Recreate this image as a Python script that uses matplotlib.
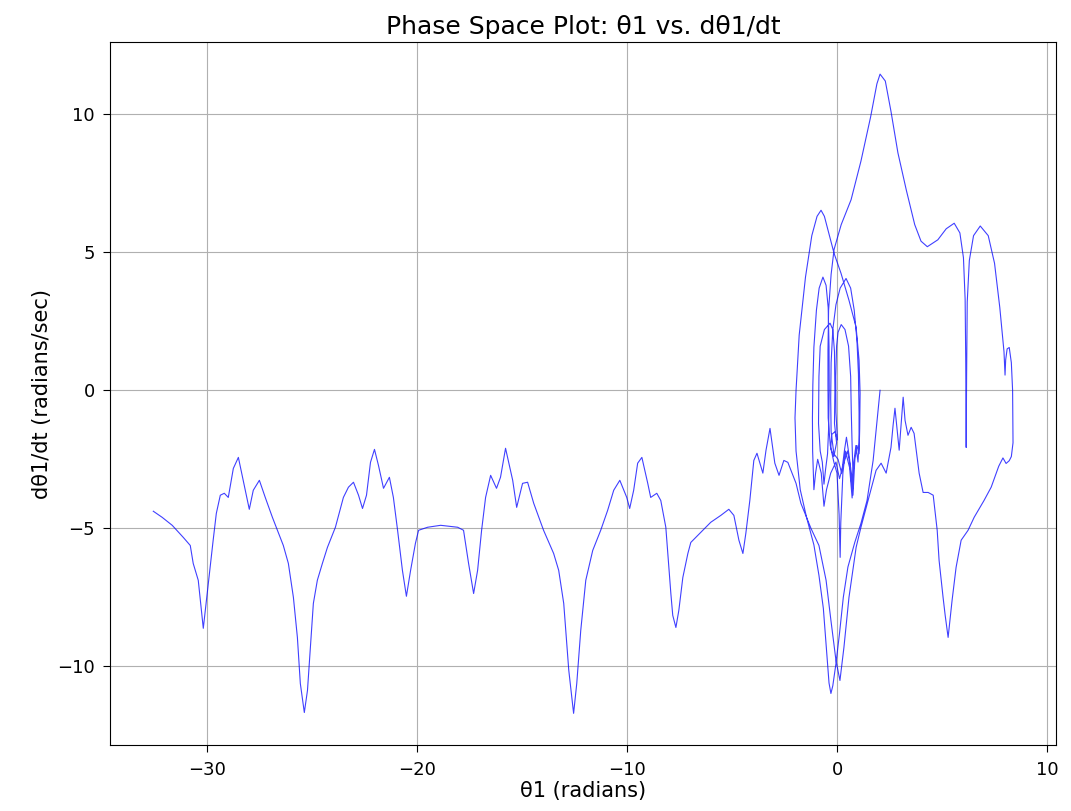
import numpy as np
import matplotlib
matplotlib.use('Agg')
import matplotlib.pyplot as plt

# trajectory of the upper pendulum arm, (theta1, dtheta1/dt) in rad, rad/s

# released from rest, first big swing through the bottom
first_swing = [
    (2.05, 0.0), (1.91, -1.09), (1.72, -2.54), (1.43, -3.99), (1.14, -4.82),
    (0.85, -5.5), (0.52, -6.4), (0.3, -7.5), (0.12, -8.8), (-0.05, -9.9),
    (-0.2, -10.7), (-0.29, -10.98), (-0.38, -10.6), (-0.5, -9.4), (-0.65, -7.9),
    (-0.86, -6.7), (-1.1, -5.6), (-1.45, -4.6), (-1.75, -3.6), (-1.95, -2.2),
    (-2.0, -1.0), (-1.95, 0.0), (-1.8, 2.0), (-1.5, 4.1), (-1.2, 5.6),
    (-0.95, 6.3), (-0.76, 6.52), (-0.6, 6.3), (-0.43, 5.8), (-0.14, 4.96),
    (0.19, 4.24), (0.57, 3.26), (0.91, 2.28), (1.05, 1.09), (1.1, -0.1),
    (1.08, -1.4), (1.05, -2.3),
]

# smaller oscillations around the lower equilibrium
inner_loops = [
    (0.95, -2.0), (0.85, -2.5), (0.76, -3.8), (0.65, -2.8), (0.5, -2.2),
    (0.3, -2.7), (0.12, -3.2), (-0.05, -2.6), (-0.3, -3.0), (-0.5, -3.6),
    (-0.62, -4.2), (-0.75, -3.0), (-0.92, -2.5), (-1.02, -3.0), (-1.1, -3.6),
    (-1.16, -2.2), (-1.17, -1.0), (-1.15, 0.2), (-1.1, 1.56), (-0.98, 2.9),
    (-0.85, 3.7), (-0.67, 4.1), (-0.52, 3.8), (-0.42, 3.0), (-0.38, 1.6),
    (-0.37, 0.0), (-0.4, -1.4), (-0.45, -2.3), (-0.55, -2.9), (-0.62, -3.4),
    (-0.7, -2.6), (-0.8, -2.2), (-0.88, -1.2), (-0.86, 0.5), (-0.8, 1.6),
    (-0.6, 2.2), (-0.33, 2.43), (-0.2, 2.2), (-0.12, 1.4), (-0.1, 0.0),
    (-0.12, -1.2), (-0.02, -1.9), (-0.15, -2.4), (-0.3, -2.1), (-0.25, -1.6),
    (-0.1, -1.5), (0.02, -1.8), (-0.05, -0.8), (-0.06, 0.5), (-0.02, 1.6),
    (0.05, 2.1), (0.2, 2.38), (0.38, 2.2), (0.55, 1.6), (0.65, 0.5),
    (0.68, -0.8), (0.72, -2.0), (0.76, -3.0), (0.72, -3.6), (0.6, -2.5),
    (0.45, -1.7), (0.35, -2.2), (0.22, -3.0), (0.05, -2.5), (-0.15, -2.3),
    (-0.28, -1.5), (-0.3, -0.3), (-0.28, 1.0), (-0.2, 2.2), (-0.05, 3.1),
    (0.15, 3.7), (0.43, 4.05), (0.65, 3.7), (0.82, 2.9), (0.95, 1.8),
    (1.02, 0.6), (1.05, -0.8), (1.05, -1.9), (1.0, -2.6), (0.9, -2.0),
    (0.8, -2.6), (0.72, -3.9), (0.6, -2.8), (0.4, -2.2), (0.28, -3.0),
    (0.18, -4.8), (0.15, -6.05), (0.1, -4.5), (0.0, -3.0), (-0.15, -2.6),
    (-0.32, -2.0), (-0.42, -1.0),
]

# kick over the top and the excursion to theta1 ~ 8 rad
excursion = [
    (-0.43, 0.2), (-0.43, 1.45), (-0.4, 2.9), (-0.28, 4.2), (-0.14, 5.1),
    (0.2, 6.0), (0.67, 6.9), (1.14, 8.3), (1.6, 9.9), (1.9, 11.1),
    (2.05, 11.45), (2.3, 11.2), (2.57, 10.1), (2.9, 8.6), (3.3, 7.25),
    (3.7, 6.0), (4.0, 5.4), (4.3, 5.2), (4.8, 5.45), (5.2, 5.85),
    (5.58, 6.05), (5.85, 5.7), (6.02, 4.8), (6.1, 3.3), (6.13, 1.0),
    (6.15, -2.07), (6.17, 0.5), (6.2, 3.2), (6.3, 4.7), (6.5, 5.6),
    (6.82, 5.95), (7.2, 5.6), (7.5, 4.6), (7.75, 3.0), (7.95, 1.4),
    (8.0, 0.55), (8.03, 1.1), (8.1, 1.5), (8.2, 1.55), (8.3, 1.0),
    (8.36, 0.0), (8.38, -1.9), (8.3, -2.4), (8.2, -2.55), (8.05, -2.65),
    (7.9, -2.45), (7.7, -2.75), (7.34, -3.51), (7.0, -3.99), (6.53, -4.6),
    (6.24, -5.07), (5.91, -5.43), (5.67, -6.41), (5.48, -7.6), (5.29, -8.95),
    (5.15, -8.15), (5.05, -7.5), (4.86, -6.16), (4.77, -5.07), (4.58, -3.80),
    (4.34, -3.70), (4.1, -3.7), (3.91, -3.0), (3.67, -1.56), (3.53, -1.34),
    (3.38, -1.63), (3.24, -1.09), (3.15, -0.25), (3.05, -1.27), (2.96, -2.17),
    (2.76, -0.65), (2.67, -1.27), (2.57, -2.07), (2.34, -3.0), (2.10, -2.64),
    (1.86, -2.90), (1.48, -3.99), (1.14, -4.96), (0.91, -5.69), (0.57, -7.5),
    (0.33, -9.31), (0.14, -10.51), (-0.05, -9.78), (-0.29, -8.33),
    (-0.52, -6.88), (-0.86, -5.62), (-1.24, -5.0),
]

# continuous rotation in the negative direction
rotation = [
    (-1.72, -4.09), (-1.95, -3.37), (-2.19, -2.90), (-2.34, -2.61),
    (-2.53, -2.54), (-2.76, -3.08), (-2.96, -2.64), (-3.19, -1.38),
    (-3.38, -2.17), (-3.53, -3.0), (-3.81, -2.28), (-3.96, -2.54),
    (-4.15, -3.99), (-4.34, -5.18), (-4.48, -5.91), (-4.67, -5.43),
    (-4.91, -4.53), (-5.15, -4.31), (-5.53, -4.53), (-6.01, -4.78),
    (-6.48, -5.14), (-6.96, -5.51), (-7.10, -5.91), (-7.34, -6.78),
    (-7.53, -7.97), (-7.67, -8.59), (-7.82, -8.15), (-7.91, -7.36),
    (-8.15, -4.96), (-8.39, -3.99), (-8.58, -3.73), (-8.87, -3.88),
    (-9.01, -3.37), (-9.29, -2.43), (-9.49, -2.64), (-9.68, -3.62),
    (-9.87, -4.28), (-10.01, -3.88), (-10.34, -3.26), (-10.63, -3.62),
    (-10.92, -4.35), (-11.25, -5.07), (-11.63, -5.8), (-11.96, -6.88),
    (-12.2, -8.7), (-12.39, -10.62), (-12.54, -11.7), (-12.77, -10.14),
    (-13.01, -7.72), (-13.25, -6.52), (-13.49, -5.91), (-13.97, -5.07),
    (-14.44, -4.09), (-14.73, -3.33), (-14.97, -3.37), (-15.25, -4.24),
    (-15.44, -3.26), (-15.78, -2.10), (-16.02, -3.15), (-16.21, -3.55),
    (-16.49, -3.08), (-16.73, -3.88), (-16.92, -5.07), (-17.11, -6.52),
    (-17.30, -7.36), (-17.54, -6.27), (-17.78, -5.07), (-18.06, -4.96),
    (-18.87, -4.89), (-19.49, -4.96), (-19.92, -5.07), (-20.07, -5.54),
    (-20.3, -6.52), (-20.5, -7.46), (-20.69, -6.52), (-20.92, -5.07),
    (-21.12, -3.88), (-21.31, -3.15), (-21.59, -3.55), (-21.83, -2.72),
    (-22.02, -2.14), (-22.21, -2.61), (-22.40, -3.80), (-22.59, -4.28),
    (-22.78, -3.80), (-23.02, -3.33), (-23.26, -3.51), (-23.50, -3.88),
    (-23.88, -4.96), (-24.26, -5.69), (-24.50, -6.27), (-24.74, -6.88),
    (-24.93, -7.72), (-25.07, -9.31), (-25.21, -10.87), (-25.36, -11.67),
    (-25.55, -10.62), (-25.69, -8.95), (-25.88, -7.5), (-26.12, -6.27),
    (-26.36, -5.62), (-26.64, -5.07), (-26.88, -4.60), (-27.22, -3.88),
    (-27.50, -3.26), (-27.79, -3.62), (-27.98, -4.31), (-28.17, -3.62),
    (-28.50, -2.43), (-28.74, -2.83), (-28.98, -3.88), (-29.17, -3.73),
    (-29.36, -3.80), (-29.55, -4.46), (-29.70, -5.43), (-29.93, -6.99),
    (-30.17, -8.62), (-30.41, -6.88), (-30.65, -6.27), (-30.79, -5.62),
    (-31.12, -5.33), (-31.65, -4.89), (-32.13, -4.60), (-32.55, -4.38),
]

path = np.array(first_swing + inner_loops + excursion + rotation)
theta1 = path[:, 0]
omega1 = path[:, 1]

fig = plt.figure(figsize=(10.71, 8.11), dpi=100)
fig.subplots_adjust(left=0.103, right=0.986, bottom=0.081, top=0.948)
ax = fig.add_subplot(111)

ax.plot(theta1, omega1, color='blue', linewidth=0.8, alpha=0.75)
ax.set_title('Phase Space Plot: θ1 vs. dθ1/dt', fontsize=18, pad=6)
ax.set_xlabel('θ1 (radians)', fontsize=15, labelpad=2)
ax.set_ylabel('dθ1/dt (radians/sec)', fontsize=15, labelpad=4)
ax.tick_params(labelsize=13, length=5, pad=6)
ax.grid(True)

fig.savefig('out.png', dpi=100)
